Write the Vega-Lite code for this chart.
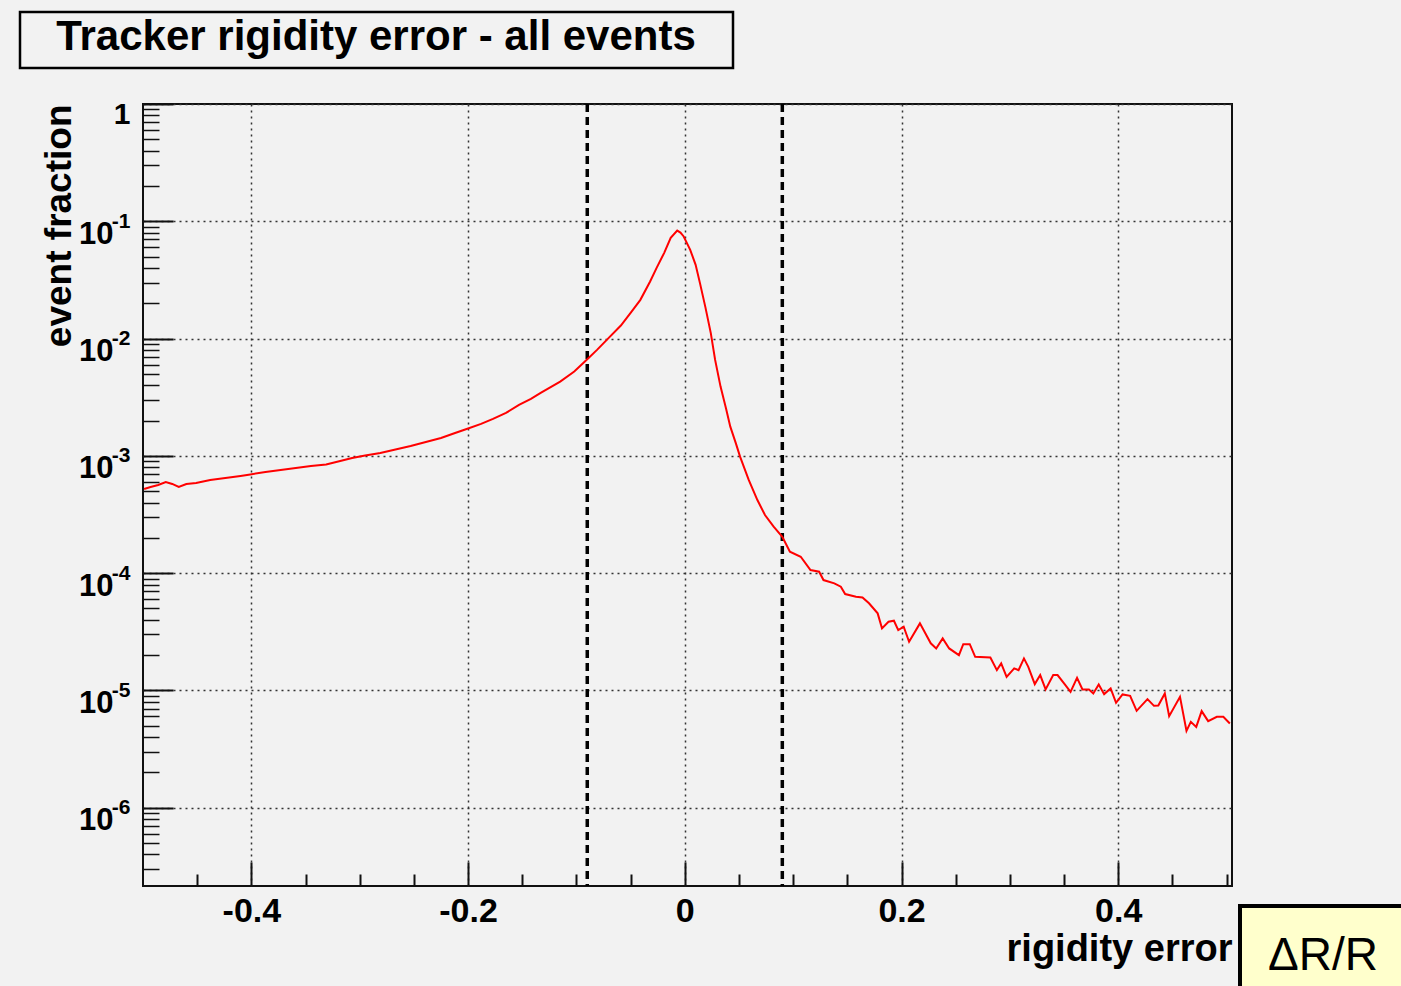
{
  "$schema": "https://vega.github.io/schema/vega-lite/v6.json",
  "width": 1089,
  "height": 782,
  "autosize": {"type": "none"},
  "padding": {"left": 143, "top": 104, "right": 169, "bottom": 100},
  "background": "#f2f2f2",
  "config": {
    "view": {"stroke": "#111111", "strokeWidth": 2, "fill": "#f2f2f2"},
    "legend": {"strokeWidth": 4},
    "axis": {
      "labelFont": "Liberation Sans", "titleFont": "Liberation Sans",
      "labelColor": "black", "titleColor": "black",
      "labelFontWeight": "bold", "titleFontWeight": "bold",
      "domain": false, "labelOverlap": false, "labelFlush": false, "labelBound": false,
      "tickColor": "#111111"
    }
  },
  "datasets": {
    "curve": [
      {"rigidity_error": -0.499, "event_fraction": 5.22e-4},
      {"rigidity_error": -0.493, "event_fraction": 5.43e-4},
      {"rigidity_error": -0.486, "event_fraction": 5.64e-4},
      {"rigidity_error": -0.479, "event_fraction": 5.99e-4},
      {"rigidity_error": -0.473, "event_fraction": 5.76e-4},
      {"rigidity_error": -0.467, "event_fraction": 5.43e-4},
      {"rigidity_error": -0.460, "event_fraction": 5.76e-4},
      {"rigidity_error": -0.451, "event_fraction": 5.87e-4},
      {"rigidity_error": -0.438, "event_fraction": 6.23e-4},
      {"rigidity_error": -0.424, "event_fraction": 6.48e-4},
      {"rigidity_error": -0.410, "event_fraction": 6.74e-4},
      {"rigidity_error": -0.401, "event_fraction": 6.94e-4},
      {"rigidity_error": -0.387, "event_fraction": 7.29e-4},
      {"rigidity_error": -0.373, "event_fraction": 7.58e-4},
      {"rigidity_error": -0.359, "event_fraction": 7.88e-4},
      {"rigidity_error": -0.345, "event_fraction": 8.20e-4},
      {"rigidity_error": -0.331, "event_fraction": 8.45e-4},
      {"rigidity_error": -0.318, "event_fraction": 9.05e-4},
      {"rigidity_error": -0.307, "event_fraction": 9.60e-4},
      {"rigidity_error": -0.295, "event_fraction": 1.008e-3},
      {"rigidity_error": -0.281, "event_fraction": 1.058e-3},
      {"rigidity_error": -0.267, "event_fraction": 1.134e-3},
      {"rigidity_error": -0.253, "event_fraction": 1.215e-3},
      {"rigidity_error": -0.239, "event_fraction": 1.314e-3},
      {"rigidity_error": -0.225, "event_fraction": 1.421e-3},
      {"rigidity_error": -0.212, "event_fraction": 1.568e-3},
      {"rigidity_error": -0.200, "event_fraction": 1.713e-3},
      {"rigidity_error": -0.188, "event_fraction": 1.872e-3},
      {"rigidity_error": -0.177, "event_fraction": 2.065e-3},
      {"rigidity_error": -0.165, "event_fraction": 2.323e-3},
      {"rigidity_error": -0.153, "event_fraction": 2.719e-3},
      {"rigidity_error": -0.142, "event_fraction": 3.059e-3},
      {"rigidity_error": -0.133, "event_fraction": 3.441e-3},
      {"rigidity_error": -0.115, "event_fraction": 4.29e-3},
      {"rigidity_error": -0.102, "event_fraction": 5.23e-3},
      {"rigidity_error": -0.090, "event_fraction": 6.67e-3},
      {"rigidity_error": -0.081, "event_fraction": 8.01e-3},
      {"rigidity_error": -0.072, "event_fraction": 9.75e-3},
      {"rigidity_error": -0.059, "event_fraction": 1.291e-2},
      {"rigidity_error": -0.050, "event_fraction": 1.657e-2},
      {"rigidity_error": -0.041, "event_fraction": 2.139e-2},
      {"rigidity_error": -0.032, "event_fraction": 3.064e-2},
      {"rigidity_error": -0.026, "event_fraction": 4.01e-2},
      {"rigidity_error": -0.019, "event_fraction": 5.38e-2},
      {"rigidity_error": -0.013, "event_fraction": 7.23e-2},
      {"rigidity_error": -0.007, "event_fraction": 8.34e-2},
      {"rigidity_error": -0.004, "event_fraction": 8.02e-2},
      {"rigidity_error": -0.001, "event_fraction": 7.42e-2},
      {"rigidity_error": 0.005, "event_fraction": 5.71e-2},
      {"rigidity_error": 0.010, "event_fraction": 4.25e-2},
      {"rigidity_error": 0.014, "event_fraction": 2.97e-2},
      {"rigidity_error": 0.019, "event_fraction": 1.853e-2},
      {"rigidity_error": 0.024, "event_fraction": 1.112e-2},
      {"rigidity_error": 0.028, "event_fraction": 6.58e-3},
      {"rigidity_error": 0.033, "event_fraction": 3.895e-3},
      {"rigidity_error": 0.038, "event_fraction": 2.55e-3},
      {"rigidity_error": 0.042, "event_fraction": 1.775e-3},
      {"rigidity_error": 0.047, "event_fraction": 1.29e-3},
      {"rigidity_error": 0.051, "event_fraction": 9.84e-4},
      {"rigidity_error": 0.059, "event_fraction": 6.23e-4},
      {"rigidity_error": 0.067, "event_fraction": 4.20e-4},
      {"rigidity_error": 0.074, "event_fraction": 3.13e-4},
      {"rigidity_error": 0.082, "event_fraction": 2.49e-4},
      {"rigidity_error": 0.090, "event_fraction": 2.044e-4},
      {"rigidity_error": 0.097, "event_fraction": 1.523e-4},
      {"rigidity_error": 0.107, "event_fraction": 1.380e-4},
      {"rigidity_error": 0.116, "event_fraction": 1.063e-4},
      {"rigidity_error": 0.124, "event_fraction": 1.028e-4},
      {"rigidity_error": 0.128, "event_fraction": 8.73e-5},
      {"rigidity_error": 0.138, "event_fraction": 8.18e-5},
      {"rigidity_error": 0.144, "event_fraction": 7.66e-5},
      {"rigidity_error": 0.148, "event_fraction": 6.63e-5},
      {"rigidity_error": 0.158, "event_fraction": 6.29e-5},
      {"rigidity_error": 0.164, "event_fraction": 6.21e-5},
      {"rigidity_error": 0.170, "event_fraction": 5.53e-5},
      {"rigidity_error": 0.178, "event_fraction": 4.54e-5},
      {"rigidity_error": 0.182, "event_fraction": 3.38e-5},
      {"rigidity_error": 0.188, "event_fraction": 3.85e-5},
      {"rigidity_error": 0.193, "event_fraction": 3.93e-5},
      {"rigidity_error": 0.197, "event_fraction": 3.27e-5},
      {"rigidity_error": 0.202, "event_fraction": 3.49e-5},
      {"rigidity_error": 0.207, "event_fraction": 2.60e-5},
      {"rigidity_error": 0.217, "event_fraction": 3.73e-5},
      {"rigidity_error": 0.227, "event_fraction": 2.52e-5},
      {"rigidity_error": 0.232, "event_fraction": 2.28e-5},
      {"rigidity_error": 0.238, "event_fraction": 2.78e-5},
      {"rigidity_error": 0.244, "event_fraction": 2.28e-5},
      {"rigidity_error": 0.253, "event_fraction": 2.00e-5},
      {"rigidity_error": 0.257, "event_fraction": 2.48e-5},
      {"rigidity_error": 0.263, "event_fraction": 2.48e-5},
      {"rigidity_error": 0.268, "event_fraction": 1.935e-5},
      {"rigidity_error": 0.282, "event_fraction": 1.91e-5},
      {"rigidity_error": 0.288, "event_fraction": 1.49e-5},
      {"rigidity_error": 0.292, "event_fraction": 1.70e-5},
      {"rigidity_error": 0.297, "event_fraction": 1.306e-5},
      {"rigidity_error": 0.304, "event_fraction": 1.54e-5},
      {"rigidity_error": 0.308, "event_fraction": 1.49e-5},
      {"rigidity_error": 0.313, "event_fraction": 1.875e-5},
      {"rigidity_error": 0.317, "event_fraction": 1.59e-5},
      {"rigidity_error": 0.323, "event_fraction": 1.132e-5},
      {"rigidity_error": 0.328, "event_fraction": 1.351e-5},
      {"rigidity_error": 0.333, "event_fraction": 1.02e-5},
      {"rigidity_error": 0.340, "event_fraction": 1.351e-5},
      {"rigidity_error": 0.344, "event_fraction": 1.351e-5},
      {"rigidity_error": 0.350, "event_fraction": 1.147e-5},
      {"rigidity_error": 0.356, "event_fraction": 9.73e-6},
      {"rigidity_error": 0.362, "event_fraction": 1.281e-5},
      {"rigidity_error": 0.367, "event_fraction": 1.02e-5},
      {"rigidity_error": 0.373, "event_fraction": 1.02e-5},
      {"rigidity_error": 0.377, "event_fraction": 9.43e-6},
      {"rigidity_error": 0.382, "event_fraction": 1.125e-5},
      {"rigidity_error": 0.387, "event_fraction": 9.30e-6},
      {"rigidity_error": 0.393, "event_fraction": 1.04e-5},
      {"rigidity_error": 0.398, "event_fraction": 7.84e-6},
      {"rigidity_error": 0.404, "event_fraction": 9.24e-6},
      {"rigidity_error": 0.411, "event_fraction": 8.99e-6},
      {"rigidity_error": 0.417, "event_fraction": 6.70e-6},
      {"rigidity_error": 0.427, "event_fraction": 8.43e-6},
      {"rigidity_error": 0.433, "event_fraction": 7.39e-6},
      {"rigidity_error": 0.437, "event_fraction": 7.43e-6},
      {"rigidity_error": 0.443, "event_fraction": 9.43e-6},
      {"rigidity_error": 0.447, "event_fraction": 6.03e-6},
      {"rigidity_error": 0.457, "event_fraction": 8.82e-6},
      {"rigidity_error": 0.463, "event_fraction": 4.52e-6},
      {"rigidity_error": 0.467, "event_fraction": 5.40e-6},
      {"rigidity_error": 0.472, "event_fraction": 4.89e-6},
      {"rigidity_error": 0.477, "event_fraction": 6.66e-6},
      {"rigidity_error": 0.483, "event_fraction": 5.47e-6},
      {"rigidity_error": 0.491, "event_fraction": 5.95e-6},
      {"rigidity_error": 0.497, "event_fraction": 5.95e-6},
      {"rigidity_error": 0.503, "event_fraction": 5.23e-6}
    ],
    "limits": [{"limit": -0.09}, {"limit": 0.09}]
  },
  "layer": [
    {
      "data": {"name": "limits"},
      "mark": {"type": "rule", "color": "black", "strokeWidth": 3.5},
      "encoding": {
        "x": {
          "field": "limit", "type": "quantitative",
          "scale": {"domain": [-0.5, 0.505], "nice": false, "zero": false},
          "axis": {
            "orient": "bottom", "title": null, "labels": false, "grid": false,
            "values": [-0.45, -0.35, -0.3, -0.25, -0.15, -0.1, -0.05, 0.05, 0.1, 0.15, 0.25, 0.3, 0.35, 0.45, 0.5],
            "tickSize": -12, "tickWidth": 2
          }
        },
        "strokeDash": {
          "datum": "ΔR/R", "type": "nominal",
          "scale": {"range": [[8, 5]]},
          "legend": {
            "title": "ΔR/R", "orient": "none", "legendX": 1097, "legendY": 802,
            "titleFont": "Liberation Sans", "titleFontSize": 46, "titleFontWeight": "normal",
            "titleColor": "black", "titlePadding": 0, "titleAnchor": "start", "titleLimit": 3000,
            "padding": 28, "fillColor": "#ffffcc", "strokeColor": "black",
            "symbolOpacity": 0, "symbolSize": 1, "symbolStrokeWidth": 0,
            "labelExpr": "''", "labelFontSize": 3, "labelOpacity": 0, "labelLimit": 3000, "labelOffset": 0,
            "encode": {"legend": {"enter": {"strokeWidth": {"value": 5}}, "update": {"strokeWidth": {"value": 5}}}}
          }
        }
      }
    },
    {
      "data": {"name": "curve"},
      "mark": {"type": "line", "strokeOpacity": 0},
      "encoding": {
        "x": {"field": "rigidity_error", "type": "quantitative", "scale": {"domain": [-0.5, 0.505], "nice": false, "zero": false}, "axis": null},
        "y": {
          "field": "event_fraction", "type": "quantitative",
          "scale": {"type": "log", "domain": [2.15e-7, 1], "nice": false},
          "axis": {
            "orient": "left", "title": null, "ticks": false, "grid": false,
            "values": [1e-6, 1e-5, 1e-4, 1e-3, 1e-2, 1e-1, 1],
            "labelExpr": "datum.value >= 1 ? '1' : '-' + round(-log(datum.value) / LN10)",
            "labelFontSize": {"condition": {"test": "datum.value >= 1", "value": 30}, "value": 21},
            "labelBaseline": {"condition": {"test": "datum.value >= 1", "value": "top"}, "value": "middle"},
            "labelOffset": {"condition": {"test": "datum.value >= 1", "value": -5}, "value": 0},
            "labelPadding": 13
          }
        }
      }
    },
    {
      "data": {"name": "curve"},
      "mark": {"type": "line", "strokeOpacity": 0},
      "encoding": {
        "x": {"field": "rigidity_error", "type": "quantitative", "scale": {"domain": [-0.5, 0.505], "nice": false, "zero": false}, "axis": null},
        "y": {
          "field": "event_fraction", "type": "quantitative",
          "scale": {"type": "log", "domain": [2.15e-7, 1], "nice": false},
          "axis": {
            "orient": "left", "title": null, "labels": false, "grid": false,
            "values": [3e-7, 4e-7, 5e-7, 6e-7, 7e-7, 8e-7, 9e-7,
                       2e-6, 3e-6, 4e-6, 5e-6, 6e-6, 7e-6, 8e-6, 9e-6,
                       2e-5, 3e-5, 4e-5, 5e-5, 6e-5, 7e-5, 8e-5, 9e-5,
                       2e-4, 3e-4, 4e-4, 5e-4, 6e-4, 7e-4, 8e-4, 9e-4,
                       2e-3, 3e-3, 4e-3, 5e-3, 6e-3, 7e-3, 8e-3, 9e-3,
                       2e-2, 3e-2, 4e-2, 5e-2, 6e-2, 7e-2, 8e-2, 9e-2,
                       0.2, 0.3, 0.4, 0.5, 0.6, 0.7, 0.8, 0.9],
            "tickSize": -16, "tickWidth": 1.5
          }
        }
      }
    },
    {
      "data": {"name": "curve"},
      "mark": {"type": "line", "strokeWidth": 2},
      "encoding": {
        "x": {
          "field": "rigidity_error", "type": "quantitative",
          "scale": {"domain": [-0.5, 0.505], "nice": false, "zero": false},
          "axis": {
            "orient": "bottom",
            "values": [-0.4, -0.2, 0, 0.2, 0.4],
            "labelExpr": "datum.value == 0 ? '0' : (datum.value < 0 ? '-' : '') + format(abs(datum.value), '.1f')",
            "labelFontSize": 34, "labelPadding": 32, "labelBaseline": "top",
            "tickSize": -24, "tickWidth": 2,
            "grid": true, "gridColor": "#333333", "gridDash": [2, 4], "gridWidth": 1.5,
            "title": "rigidity error", "titleFontSize": 38, "titleAnchor": "end", "titlePadding": 2
          }
        },
        "y": {
          "field": "event_fraction", "type": "quantitative",
          "scale": {"type": "log", "domain": [2.15e-7, 1], "nice": false},
          "axis": {
            "orient": "left",
            "values": [1e-6, 1e-5, 1e-4, 1e-3, 1e-2, 1e-1, 1],
            "labelExpr": "datum.value >= 1 ? '' : '10'",
            "labelFontSize": 31, "labelBaseline": "top", "labelOffset": -2, "labelPadding": 60,
            "tickSize": -30, "tickWidth": 2,
            "grid": true, "gridColor": "#333333", "gridDash": [2, 4], "gridWidth": 1.5,
            "title": "event fraction", "titleFontSize": 37, "titleAnchor": "end", "titlePadding": 0
          }
        },
        "color": {
          "datum": "all events", "type": "nominal",
          "scale": {"range": ["#ff0000"]},
          "legend": {
            "title": "Tracker rigidity error - all events", "orient": "none", "legendX": -123, "legendY": -92,
            "titleFont": "Liberation Sans", "titleFontSize": 42, "titleFontWeight": "bold",
            "titleColor": "black", "titlePadding": 0, "titleAnchor": "middle", "titleLimit": 3000,
            "padding": 5, "fillColor": "#f2f2f2", "strokeColor": "black",
            "symbolOpacity": 0, "symbolSize": 1, "symbolStrokeWidth": 0,
            "labelExpr": "pad('', 280, 'M')", "labelFontSize": 3, "labelOpacity": 0, "labelLimit": 3000, "labelOffset": 0,
            "encode": {"legend": {"enter": {"strokeWidth": {"value": 2.5}}, "update": {"strokeWidth": {"value": 2.5}}}}
          }
        }
      }
    }
  ],
  "resolve": {"axis": {"x": "independent", "y": "independent"}}
}
